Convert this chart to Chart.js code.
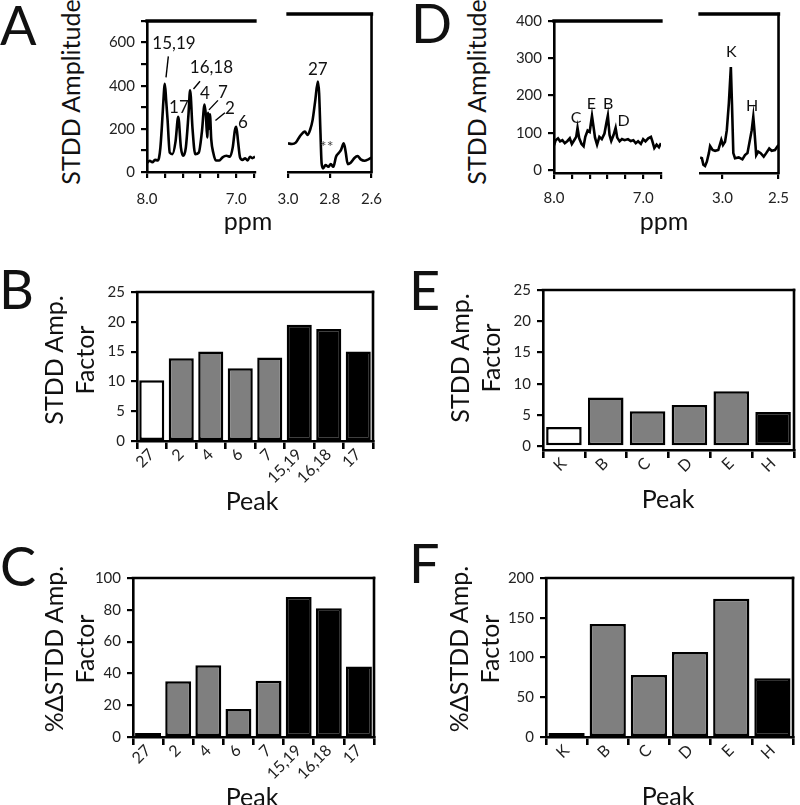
<!DOCTYPE html>
<html>
<head>
<meta charset="utf-8">
<script src="https://cdn.jsdelivr.net/npm/chart.js@4.4.1/dist/chart.umd.min.js"></script>
<style>
html, body { margin: 0; padding: 0; background: #fff; }
#fig { position: relative; width: 800px; height: 805px; overflow: hidden; font-family: Lato, sans-serif; color: #111; }
#fig canvas { position: absolute; }
.t { position: absolute; white-space: nowrap; line-height: 1; }
</style>
</head>
<body>
<div id="fig"></div>
<script>
// ---- spectra (ppm, STDD amplitude) ----
const aLeftPpm = [8.00, 7.97, 7.94, 7.91, 7.88, 7.865, 7.85, 7.835, 7.82, 7.80, 7.785, 7.77, 7.745, 7.715, 7.68, 7.65, 7.62, 7.595, 7.565, 7.535, 7.517, 7.49, 7.46, 7.42, 7.385, 7.355, 7.34, 7.325, 7.315, 7.305, 7.295, 7.28, 7.258, 7.228, 7.19, 7.154, 7.11, 7.07, 7.04, 7.015, 7.00, 6.98, 6.958, 6.93, 6.90, 6.873, 6.846, 6.82, 6.79];
const aLeftAmp = [42, 52, 45, 56, 54, 66, 113, 200, 305, 409, 330, 245, 90, 83, 142, 256, 113, 75, 113, 268, 379, 201, 83, 90, 186, 313, 262, 160, 275, 200, 268, 150, 90, 53, 53, 68, 75, 71, 113, 194, 209, 142, 68, 56, 64, 53, 71, 64, 71];
const aRightPpm = [3.000, 2.981, 2.963, 2.944, 2.919, 2.907, 2.894, 2.882, 2.870, 2.857, 2.851, 2.845, 2.839, 2.832, 2.820, 2.807, 2.795, 2.783, 2.770, 2.758, 2.746, 2.733, 2.724, 2.714, 2.700, 2.683, 2.667, 2.652, 2.634, 2.615, 2.600];
const aRightAmp = [127, 124, 130, 157, 179, 164, 187, 231, 313, 401, 349, 187, 38, 16, 31, 23, 35, 23, 68, 83, 98, 127, 90, 35, 41, 61, 71, 56, 50, 56, 64];
const dLeftPpm = [8.000, 7.981, 7.955, 7.932, 7.906, 7.879, 7.849, 7.823, 7.800, 7.774, 7.751, 7.736, 7.717, 7.691, 7.668, 7.649, 7.623, 7.600, 7.574, 7.555, 7.540, 7.517, 7.491, 7.464, 7.434, 7.411, 7.396, 7.377, 7.358, 7.332, 7.309, 7.291, 7.264, 7.238, 7.208, 7.170, 7.140, 7.110, 7.083, 7.057, 7.026, 7.000, 6.974, 6.943, 6.913, 6.898, 6.875, 6.849, 6.823, 6.800];
const dLeftAmp = [66, 80, 85, 77, 80, 72, 78, 85, 70, 80, 89, 113, 85, 70, 64, 89, 106, 102, 145, 113, 87, 68, 89, 83, 98, 128, 146, 94, 78, 94, 113, 87, 77, 83, 80, 83, 78, 80, 72, 77, 70, 83, 77, 85, 89, 78, 59, 68, 61, 72];
const dRightPpm = [3.199, 3.183, 3.170, 3.155, 3.139, 3.121, 3.110, 3.088, 3.065, 3.037, 3.010, 2.995, 2.977, 2.961, 2.943, 2.925, 2.915, 2.903, 2.888, 2.855, 2.822, 2.799, 2.777, 2.755, 2.739, 2.725, 2.715, 2.699, 2.681, 2.659, 2.632, 2.610, 2.583, 2.561, 2.532, 2.510, 2.500];
const dRightAmp = [32, 30, 13, 10, 21, 43, 61, 51, 49, 51, 77, 64, 72, 102, 170, 264, 170, 43, 30, 32, 27, 38, 43, 77, 102, 136, 102, 38, 47, 43, 34, 43, 55, 49, 51, 60, 64];

// axis ticks (all marks) and which of them carry a label
const aLeftTicks = [8.0, 7.8, 7.6, 7.4, 7.2, 7.0, 6.8];
const aLeftTickLabels = [8.0, 7.0];
const aRightTicks = [3.0, 2.8, 2.6];
const dLeftTicks = [8.0, 7.8, 7.6, 7.4, 7.2, 7.0, 6.8];
const dLeftTickLabels = [8.0, 7.0];
const dRightTicks = [3.0, 2.5];
const aYTicks = [0, 100, 200, 300, 400, 500, 600, 700];
const aYTickLabels = [0, 200, 400, 600];
const dYTicks = [0, 100, 200, 300, 400];

// peak labels in data coordinates
const aLeftNotes = [
    { text: '15,19', x: 7.698, y: 594 }, { text: '17', x: 7.642, y: 301 },
    { text: '16,18', x: 7.278, y: 483 }, { text: '4', x: 7.350, y: 363 },
    { text: '7', x: 7.149, y: 368 }, { text: '2', x: 7.071, y: 292 },
    { text: '6', x: 6.925, y: 230 }
];
const aLeftLeaders = [[7.787, 439, 7.761, 536], [7.479, 385, 7.406, 421], [7.306, 288, 7.205, 332], [7.233, 239, 7.127, 275]];
const aRightNotes = [{ text: '27', x: 2.857, y: 456 }, { text: '**', x: 2.815, y: 112, color: '#444', size: 16 }];
const dLeftNotes = [{ text: 'C', x: 7.753, y: 141 }, { text: 'E', x: 7.582, y: 178 }, { text: 'B', x: 7.392, y: 178 }, { text: 'D', x: 7.22, y: 132 }];
const dRightNotes = [{ text: 'K', x: 2.921, y: 303 }, { text: 'H', x: 2.736, y: 164 }];

// ---- bar panels ----
const peaksLeft = ['27', '2', '4', '6', '7', '15,19', '16,18', '17'];
const groupsLeft = ['none', 'grey', 'grey', 'grey', 'grey', 'black', 'black', 'black'];
const stddFactorLeft = [10.2, 13.9, 15.0, 12.2, 14.0, 19.5, 18.8, 15.0];
const pctFactorLeft = [1.0, 35.0, 45.2, 17.6, 35.4, 88.0, 81.0, 44.4];
const peaksRight = ['K', 'B', 'C', 'D', 'E', 'H'];
const groupsRight = ['none', 'grey', 'grey', 'grey', 'grey', 'black'];
const stddFactorRight = [3.1, 7.8, 5.6, 6.6, 8.8, 5.5];
const pctFactorRight = [2, 142, 78, 107, 174, 74];
const ticksStdd = [0, 5, 10, 15, 20, 25];
const ticksPctLeft = [0, 20, 40, 60, 80, 100];
const ticksPctRight = [0, 50, 100, 150, 200];

const fillOf = { none: '#ffffff', grey: '#7f7f7f', black: '#000000' };

Chart.defaults.font.family = 'Lato, sans-serif';
Chart.defaults.color = '#222';

const fig = document.getElementById('fig');

// top / right lines of the plot box
const framePlugin = {
    id: 'frame',
    afterDatasetsDraw(chart, args, opts) {
        const { ctx, chartArea: a } = chart;
        ctx.save();
        ctx.strokeStyle = '#000';
        ctx.lineCap = 'square';
        if (opts.top) {
            ctx.lineWidth = opts.top;
            ctx.beginPath(); ctx.moveTo(a.left, a.top); ctx.lineTo(a.right, a.top); ctx.stroke();
        }
        if (opts.right) {
            ctx.lineWidth = opts.right;
            ctx.beginPath(); ctx.moveTo(a.right, a.top); ctx.lineTo(a.right, a.bottom); ctx.stroke();
        }
        ctx.restore();
    }
};

// peak labels + leader lines
const notesPlugin = {
    id: 'notes',
    afterDatasetsDraw(chart, args, opts) {
        const { ctx } = chart;
        const x = chart.scales.x, y = chart.scales.y;
        ctx.save();
        ctx.strokeStyle = '#000';
        ctx.lineWidth = 1.4;
        (opts.leaders || []).forEach(l => {
            ctx.beginPath();
            ctx.moveTo(x.getPixelForValue(l[0]), y.getPixelForValue(l[1]));
            ctx.lineTo(x.getPixelForValue(l[2]), y.getPixelForValue(l[3]));
            ctx.stroke();
        });
        ctx.textAlign = 'center';
        ctx.textBaseline = 'middle';
        (opts.labels || []).forEach(l => {
            ctx.font = (l.size || opts.size || 17) + 'px Lato, sans-serif';
            ctx.fillStyle = l.color || '#111';
            ctx.fillText(l.text, x.getPixelForValue(l.x), y.getPixelForValue(l.y));
        });
        ctx.restore();
    }
};

function makeCanvas(area, pad) {
    const c = document.createElement('canvas');
    const w = area.r - area.l + pad.l + pad.r;
    const h = area.b - area.t + pad.t + pad.b;
    c.width = w; c.height = h;
    c.style.left = (area.l - pad.l) + 'px';
    c.style.top = (area.t - pad.t) + 'px';
    c.style.width = w + 'px';
    c.style.height = h + 'px';
    fig.appendChild(c);
    return c;
}

const axisGrid = { drawOnChartArea: false, drawTicks: true, tickLength: 6, color: '#000', lineWidth: 2.2 };
const axisBorder = { display: true, color: '#000', width: 2.6 };

function spectrum(area, pad, ppm, amp, opt) {
    const canvas = makeCanvas(area, pad);
    const showY = !!opt.yTicks;
    const yLab = opt.yLabels || opt.yTicks || [];
    return new Chart(canvas, {
        type: 'line',
        data: {
            datasets: [{
                data: ppm.map((v, i) => ({ x: v, y: amp[i] })),
                borderColor: '#000', borderWidth: 2.6, pointRadius: 0,
                tension: 0, cubicInterpolationMode: opt.smooth ? 'monotone' : 'default', fill: false
            }]
        },
        options: {
            responsive: false, animation: false, events: [],
            layout: { padding: { left: showY ? 0 : pad.l, top: pad.t, right: pad.r, bottom: 0 } },
            plugins: {
                legend: { display: false }, tooltip: { enabled: false },
                frame: { top: 3.3, right: opt.rightLine ? 2.6 : 0 },
                notes: { labels: opt.notes, leaders: opt.leaders, size: opt.noteSize }
            },
            scales: {
                x: {
                    type: 'linear', reverse: true, min: opt.xRange[1], max: opt.xRange[0],
                    afterBuildTicks: s => { s.ticks = opt.xTicks.map(v => ({ value: v })); },
                    afterFit: s => { s.height = pad.b; },
                    grid: axisGrid, border: axisBorder,
                    ticks: {
                        autoSkip: false, maxRotation: 0, minRotation: 0, padding: opt.xPad,
                        font: { size: 15 }, color: '#222',
                        callback: v => opt.xLabels.includes(v) ? v.toFixed(1) : ''
                    }
                },
                y: {
                    type: 'linear', display: showY, min: opt.yRange[0], max: opt.yRange[1],
                    afterBuildTicks: s => { if (showY) s.ticks = opt.yTicks.map(v => ({ value: v })); },
                    afterFit: s => { s.width = pad.l; },
                    grid: axisGrid, border: axisBorder,
                    ticks: {
                        autoSkip: false, padding: 6, font: { size: 15 }, color: '#222',
                        callback: v => yLab.includes(v) ? String(v) : ''
                    }
                }
            }
        },
        plugins: [framePlugin, notesPlugin]
    });
}

function bars(area, pad, labels, values, groups, yRange, yTicks, barPct) {
    const canvas = makeCanvas(area, pad);
    return new Chart(canvas, {
        type: 'bar',
        data: {
            labels: labels,
            datasets: [{
                data: values,
                backgroundColor: groups.map(g => fillOf[g]),
                borderColor: '#000', borderWidth: 2.5, borderSkipped: false, minBarLength: 4,
                barPercentage: barPct, categoryPercentage: 1
            }]
        },
        options: {
            responsive: false, animation: false, events: [],
            layout: { padding: { left: 0, top: pad.t, right: pad.r, bottom: 0 } },
            plugins: { legend: { display: false }, tooltip: { enabled: false }, frame: { top: 2.6, right: 2.6 } },
            scales: {
                x: {
                    afterFit: s => { s.height = pad.b; },
                    grid: { offset: true, drawOnChartArea: false, drawTicks: true, tickLength: 8, color: '#000', lineWidth: 2.6 },
                    border: axisBorder,
                    ticks: { autoSkip: false, maxRotation: 45, minRotation: 45, padding: -4, font: { size: 16 }, color: '#222' }
                },
                y: {
                    min: yRange[0], max: yRange[1],
                    afterBuildTicks: s => { s.ticks = yTicks.map(v => ({ value: v })); },
                    afterFit: s => { s.width = pad.l; },
                    grid: axisGrid, border: axisBorder,
                    ticks: { autoSkip: false, padding: 6, font: { size: 15 }, color: '#222' }
                }
            }
        },
        plugins: [framePlugin]
    });
}

// ---- text helpers (baseline based) ----
function txt(s, x, base, size, center) {
    const d = document.createElement('div');
    d.className = 't';
    d.textContent = s;
    d.style.fontSize = size + 'px';
    d.style.top = (base - 0.887 * size) + 'px';
    d.style.left = x + 'px';
    if (center) d.style.transform = 'translateX(-50%)';
    fig.appendChild(d);
}
function vtxt(lines, cx, cy, size, lh) {
    const d = document.createElement('div');
    d.className = 't';
    d.style.fontSize = size + 'px';
    d.style.lineHeight = lh + 'px';
    d.style.textAlign = 'center';
    lines.forEach((s, i) => {
        if (i) d.appendChild(document.createElement('br'));
        d.appendChild(document.createTextNode(s));
    });
    d.style.left = cx + 'px';
    d.style.top = cy + 'px';
    d.style.transform = 'translate(-50%,-50%) rotate(-90deg)';
    fig.appendChild(d);
}

// ---- panel A ----
spectrum({ l: 147, t: 14, r: 255, b: 172 }, { l: 60, t: 8, r: 14, b: 36 }, aLeftPpm, aLeftAmp, {
    xRange: [8.0, 6.79], xTicks: aLeftTicks, xLabels: aLeftTickLabels, xPad: 12,
    yRange: [0, 700], yTicks: aYTicks, yLabels: aYTickLabels,
    notes: aLeftNotes, leaders: aLeftLeaders, noteSize: 17, smooth: true
});
spectrum({ l: 272, t: 14, r: 380, b: 172 }, { l: 16, t: 8, r: 14, b: 36 }, aRightPpm, aRightAmp, {
    xRange: [3.0, 2.6], xTicks: aRightTicks, xLabels: aRightTicks, xPad: 12,
    yRange: [0, 700], notes: aRightNotes, noteSize: 17, rightLine: true, smooth: true
});

// ---- panel D ----
spectrum({ l: 554, t: 14, r: 661, b: 173 }, { l: 60, t: 8, r: 14, b: 36 }, dLeftPpm, dLeftAmp, {
    xRange: [8.0, 6.8], xTicks: dLeftTicks, xLabels: dLeftTickLabels, xPad: 10,
    yRange: [-8, 400], yTicks: dYTicks,
    notes: dLeftNotes, noteSize: 16
});
spectrum({ l: 684, t: 14, r: 789, b: 173 }, { l: 16, t: 8, r: 10, b: 36 }, dRightPpm, dRightAmp, {
    xRange: [3.2, 2.5], xTicks: dRightTicks, xLabels: dRightTicks, xPad: 10,
    yRange: [-8, 400], notes: dRightNotes, noteSize: 16, rightLine: true
});

// ---- panels B, E, C, F ----
bars({ l: 137, t: 283, r: 373, b: 441 }, { l: 50, t: 6, r: 12, b: 60 }, peaksLeft, stddFactorLeft, groupsLeft, [0, 25], ticksStdd, 0.85);
bars({ l: 543, t: 281, r: 794, b: 450 }, { l: 50, t: 6, r: 5, b: 60 }, peaksRight, stddFactorRight, groupsRight, [-0.6, 25], ticksStdd, 0.85);
bars({ l: 133, t: 569, r: 374, b: 737 }, { l: 50, t: 6, r: 12, b: 60 }, peaksLeft, pctFactorLeft, groupsLeft, [0, 100], ticksPctLeft, 0.86);
bars({ l: 546, t: 569, r: 793, b: 737 }, { l: 50, t: 6, r: 6, b: 60 }, peaksRight, pctFactorRight, groupsRight, [0, 200], ticksPctRight, 0.88);

// ---- titles ----
txt('A', 0, 46, 54); txt('D', 411, 44, 54);
txt('B', -1, 310, 54); txt('E', 409, 311, 54);
txt('C', 0, 587, 54); txt('F', 409, 584, 54);

vtxt(['STDD Amplitude'], 70, 92, 25, 25);
vtxt(['STDD Amplitude'], 476, 92, 25, 25);
txt('ppm', 248, 230, 25, true);
txt('ppm', 664, 230, 25, true);

vtxt(['STDD Amp.', 'Factor'], 69, 360, 25, 31);
vtxt(['STDD Amp.', 'Factor'], 475, 358, 25, 31);
vtxt(['%ΔSTDD Amp.', 'Factor'], 69, 649, 25, 31);
vtxt(['%ΔSTDD Amp.', 'Factor'], 474, 649, 25, 31);
txt('Peak', 252, 510, 25, true);
txt('Peak', 668, 508, 25, true);
txt('Peak', 252, 806, 25, true);
txt('Peak', 668, 805, 25, true);
</script>
</body>
</html>
